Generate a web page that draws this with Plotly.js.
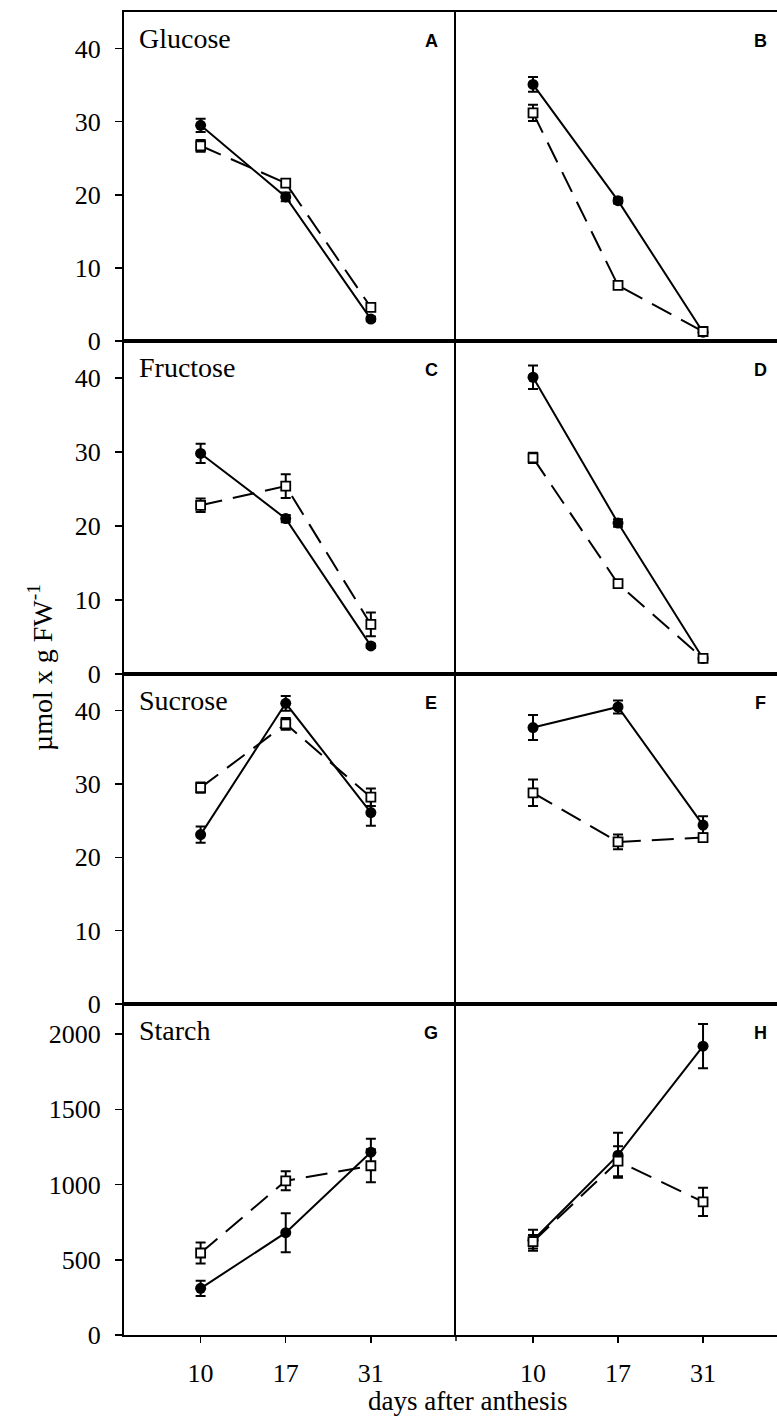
<!DOCTYPE html>
<html>
<head>
<meta charset="utf-8">
<script src="https://cdn.plot.ly/plotly-3.0.1.min.js"></script>
<style>html,body{margin:0;padding:0;background:#fff;}#chart{width:777px;height:1417px;}</style>
</head>
<body>
<div id="chart"></div>
<script>
// ---- data ----
const days = ['10', '17', '31'];
const sugars = ['Glucose', 'Fructose', 'Sucrose', 'Starch'];
const panelLetters = ['A', 'B', 'C', 'D', 'E', 'F', 'G', 'H'];

// filled circles, solid line
const A_filled = [29.5, 19.7, 3.0];   const A_filled_err = [0.9, 0.6, 0.3];
const B_filled = [35.1, 19.2, 1.2];   const B_filled_err = [1.0, 0.4, 0.3];
const C_filled = [29.8, 21.0, 3.8];   const C_filled_err = [1.3, 0.5, 0.3];
const D_filled = [40.1, 20.4, 2.1];   const D_filled_err = [1.6, 0.5, 0.2];
const E_filled = [23.1, 41.0, 26.1];  const E_filled_err = [1.1, 1.0, 1.8];
const F_filled = [37.7, 40.5, 24.4];  const F_filled_err = [1.7, 0.9, 1.2];
const G_filled = [310, 680, 1215];    const G_filled_err = [50, 130, 90];
const H_filled = [630, 1195, 1920];   const H_filled_err = [70, 150, 147];

// open squares, dashed line
const A_open = [26.7, 21.6, 4.6];     const A_open_err = [0.8, 0.3, 0.4];
const B_open = [31.2, 7.6, 1.3];      const B_open_err = [1.1, 0.3, 0.2];
const C_open = [22.8, 25.4, 6.7];     const C_open_err = [0.9, 1.6, 1.6];
const D_open = [29.2, 12.2, 2.1];     const D_open_err = [0.7, 0.3, 0.2];
const E_open = [29.5, 38.2, 28.2];    const E_open_err = [0.7, 0.8, 1.2];
const F_open = [28.8, 22.1, 22.7];    const F_open_err = [1.8, 1.0, 0.5];
const G_open = [545, 1025, 1125];     const G_open_err = [70, 63, 110];
const H_open = [620, 1155, 885];      const H_open_err = [45, 100, 94];

const sugarTicks = [0, 10, 20, 30, 40];
const starchTicks = [0, 500, 1000, 1500, 2000];

// ---- build ----
const filled = [A_filled, B_filled, C_filled, D_filled, E_filled, F_filled, G_filled, H_filled];
const filledErr = [A_filled_err, B_filled_err, C_filled_err, D_filled_err, E_filled_err, F_filled_err, G_filled_err, H_filled_err];
const open = [A_open, B_open, C_open, D_open, E_open, F_open, G_open, H_open];
const openErr = [A_open_err, B_open_err, C_open_err, D_open_err, E_open_err, F_open_err, G_open_err, H_open_err];

const W = 777, H = 1417;
const px = v => v / W;
const py = v => 1 - v / H;
const colX = [[px(124), px(456)], [px(456), 1]];
const rowY = [[12, 341], [341, 674], [674, 1004], [1004, 1335]];
const serif = 'Liberation Serif, Times New Roman, serif';

const traces = [];
const layout = {
  width: W, height: H,
  margin: {l: 0, r: 0, t: 0, b: 0},
  paper_bgcolor: '#fff', plot_bgcolor: 'rgba(0,0,0,0)',
  showlegend: false,
  annotations: [], shapes: []
};

for (let i = 0; i < 8; i++) {
  const r = Math.floor(i / 2), c = i % 2;
  const n = i + 1;
  const xa = n === 1 ? 'x' : 'x' + n;
  const ya = n === 1 ? 'y' : 'y' + n;
  const bottom = r === 3;
  const left = c === 0;
  const isStarch = r === 3;
  layout['xaxis' + (n === 1 ? '' : n)] = {
    domain: colX[c], anchor: ya, type: 'category',
    range: left ? [-0.9, 3.0] : [-0.906, 2.87],
    showline: true, linecolor: '#000', linewidth: 2, mirror: true,
    showgrid: false, zeroline: false,
    ticks: bottom ? 'outside' : '', ticklen: 6, tickwidth: 1.5, tickcolor: '#000',
    showticklabels: bottom, ticklabelstandoff: 8,
    tickfont: {family: serif, size: 26, color: '#000'},
    fixedrange: true
  };
  layout['yaxis' + (n === 1 ? '' : n)] = {
    domain: [py(rowY[r][1]), py(rowY[r][0])], anchor: xa,
    range: isStarch ? [0, 2200] : [0, 45],
    tickvals: isStarch ? starchTicks : sugarTicks,
    showline: true, linecolor: '#000', linewidth: 2, mirror: false,
    showgrid: false, zeroline: false,
    ticks: left ? 'outside' : '', ticklen: 7, tickwidth: 1.5, tickcolor: '#000',
    showticklabels: left, ticklabelstandoff: 9,
    tickfont: {family: serif, size: 26, color: '#000'},
    fixedrange: true
  };
  traces.push({
    x: days, y: filled[i], xaxis: xa, yaxis: ya, type: 'scatter', mode: 'lines+markers',
    line: {color: '#000', width: 2},
    marker: {symbol: 'circle', size: 11, color: '#000'},
    error_y: {type: 'data', array: filledErr[i], visible: true, color: '#000', thickness: 2, width: 5},
    cliponaxis: false
  });
  traces.push({
    x: days, y: open[i], xaxis: xa, yaxis: ya, type: 'scatter', mode: 'lines+markers',
    line: {color: '#000', width: 2, dash: '22px,11px'},
    marker: {symbol: 'square', size: 9, color: '#fff', line: {color: '#000', width: 1.8}},
    error_y: {type: 'data', array: openErr[i], visible: true, color: '#000', thickness: 2, width: 5},
    cliponaxis: false
  });
  // panel letter
  layout.annotations.push({
    xref: 'paper', yref: 'paper',
    x: left ? px(431) : px(760), y: py(rowY[r][0] + 29),
    xanchor: 'center', yanchor: 'middle', showarrow: false,
    text: '<b>' + panelLetters[i] + '</b>',
    font: {family: 'Liberation Sans, Arial, sans-serif', size: 18, color: '#000'}
  });
}

sugars.forEach((s, r) => {
  layout.annotations.push({
    xref: 'paper', yref: 'paper',
    x: px(137), y: py(rowY[r][0] + 26),
    xanchor: 'left', yanchor: 'middle', showarrow: false,
    text: s, font: {family: serif, size: 28, color: '#000'}
  });
});

layout.annotations.push({
  xref: 'paper', yref: 'paper', x: px(467), y: 0,
  xanchor: 'center', yanchor: 'bottom', showarrow: false, borderpad: 0,
  text: 'days after anthesis', font: {family: serif, size: 27, color: '#000'}
});
layout.annotations.push({
  xref: 'paper', yref: 'paper', x: px(40), y: py(668),
  xanchor: 'center', yanchor: 'middle', showarrow: false, textangle: -90,
  text: 'µmol x g FW<sup>-1</sup>', font: {family: serif, size: 28, color: '#000'}
});
// small tick below the divider on the bottom axis
layout.shapes.push({type: 'line', xref: 'paper', yref: 'paper',
  x0: px(456), x1: px(456), y0: py(1335), y1: py(1341), line: {color: '#000', width: 1.5}});

Plotly.newPlot('chart', traces, layout, {displayModeBar: false, staticPlot: true});
</script>
</body>
</html>
